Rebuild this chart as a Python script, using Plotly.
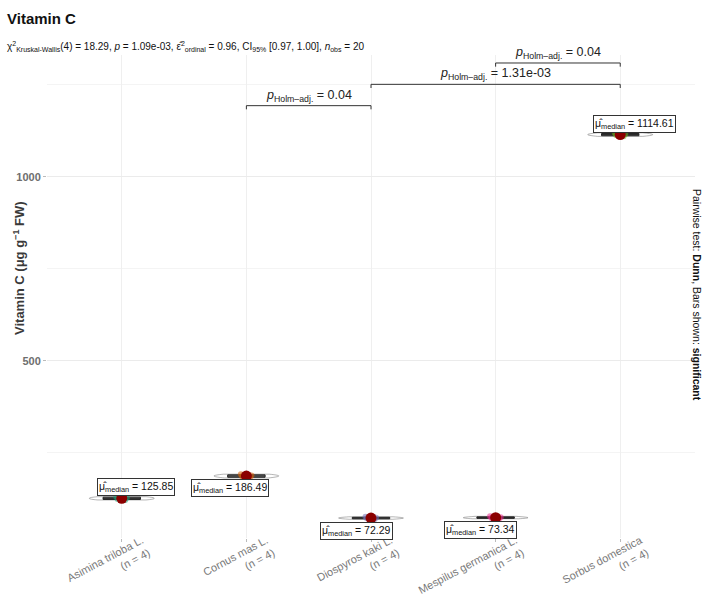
import numpy as np
import plotly.graph_objects as go

# Species and their vitamin C measurements (µg g-1 FW), four replicates each
species = ["Asimina triloba L.", "Cornus mas L.", "Diospyros kaki L.",
           "Mespilus germanica L.", "Sorbus domestica"]
asimina = [121.4, 124.2, 127.5, 130.3]
cornus = [181.2, 185.1, 187.88, 191.5]
diospyros = [68.9, 71.5, 73.08, 75.6]
mespilus = [70.2, 72.6, 74.08, 76.9]
sorbus = [1109.8, 1113.3, 1115.92, 1119.4]
groups = [asimina, cornus, diospyros, mespilus, sorbus]

# Significant Dunn pairwise comparisons (Holm-adjusted)
pair_a = [1, 2, 3]
pair_b = [2, 4, 4]
pair_p = ["0.04", "1.31e-03", "0.04"]

colors = ["#1B9E77", "#D95F02", "#7570B3", "#E7298A", "#66A61E"]
FONT = "Liberation Sans, Arial, sans-serif"

W, H = 706, 599
L, R, T, B = 47, 11, 55, 61

fig = go.Figure()

medians = [float(np.median(g)) for g in groups]

for i, vals in enumerate(groups):
    xs = [i] * len(vals)
    fig.add_trace(go.Violin(
        x=xs, y=vals, width=0.52, spanmode="hard", points=False,
        line=dict(color="rgba(90,90,90,0.45)", width=1),
        fillcolor="rgba(255,255,255,0)", showlegend=False, hoverinfo="skip",
        box_visible=False, meanline_visible=False))
    fig.add_trace(go.Box(
        x=xs, y=vals, width=0.3, boxpoints="all", jitter=0.35, pointpos=0,
        line=dict(color="#222222", width=1), fillcolor="rgba(60,60,60,0.6)",
        marker=dict(color=colors[i], size=6, opacity=0.55),
        whiskerwidth=0, showlegend=False))

# median markers
fig.add_trace(go.Scatter(
    x=list(range(len(species))), y=medians, mode="markers",
    marker=dict(color="#8B0000", size=11), showlegend=False))

# median labels (pixel offsets from the marker)
label_shift = [(14, 11.5), (-16, -11.5), (-15, -12.5), (-15.5, -12.5), (14.5, 11)]
for i, m in enumerate(medians):
    dx, dy = label_shift[i]
    fig.add_annotation(
        x=i, y=m, xref="x", yref="y", showarrow=False,
        text=f"\u03bc\u0302<sub>median</sub> = {m:.2f}",
        font=dict(family=FONT, size=10.5, color="#111111"),
        bgcolor="white", bordercolor="#333333", borderwidth=1, borderpad=1,
        xshift=dx, yshift=dy)

# significance brackets
top = max(max(g) for g in groups)
base = top * 1.066
step = 58
tick = 10
for k, (a, b, p) in enumerate(zip(pair_a, pair_b, pair_p)):
    yb = base + k * step
    fig.add_trace(go.Scatter(
        x=[a, a, b, b], y=[yb - tick, yb, yb, yb - tick], mode="lines",
        line=dict(color="#333333", width=1), showlegend=False,
        hoverinfo="skip"))
    fig.add_annotation(
        x=(a + b) / 2, y=yb, xref="x", yref="y", showarrow=False, yshift=10,
        text=f"<i>p</i><sub>Holm\u2013adj.</sub> = {p}",
        font=dict(family=FONT, size=12.5, color="#222222"))

ticktext = [f"{s}<br>(n = {len(g)})" for s, g in zip(species, groups)]

fig.update_layout(
    width=W, height=H,
    margin=dict(l=L, r=R, t=T, b=B),
    paper_bgcolor="white", plot_bgcolor="white",
    font=dict(family=FONT, size=11, color="#4D4D4D"),
    xaxis=dict(
        range=[-0.6, 4.6], tickvals=list(range(len(species))), ticktext=ticktext,
        tickangle=-28, showgrid=True, gridcolor="#EFEFEF", gridwidth=1,
        zeroline=False, showline=False, ticks="outside", ticklen=3,
        tickcolor="#BBBBBB", automargin=False, ticklabelshift=20,
        ticklabelstandoff=-12,
        tickfont=dict(size=11, color="#7A7A7A", family=FONT)),
    yaxis=dict(
        range=[18, 1331], tick0=0, dtick=500, showgrid=True, gridcolor="#EBEBEB",
        zeroline=False, showline=False, ticks="outside", ticklen=3,
        tickcolor="#BBBBBB", automargin=False,
        tickfont=dict(size=11, color="#6E6E6E", weight="bold"),
        minor=dict(dtick=250, showgrid=True, gridcolor="#F4F4F4")),
    showlegend=False,
)

# title, subtitle, axis title, caption (positions given in pixels)
page_text = [
    dict(x=5, y=18, text="<b>Vitamin C</b>", xanchor="left", textangle=0,
         font=dict(family=FONT, size=15, color="#111111")),
    dict(x=5, y=47,
         text=("\u03c7<sup>2</sup><sub>Kruskal-Wallis</sub>(4) = 18.29, "
               "<i>p</i> = 1.09e-03, \u03b5\u0302<sup>2</sup><sub>ordinal</sub> = 0.96, "
               "CI<sub>95%</sub> [0.97, 1.00], <i>n</i><sub>obs</sub> = 20"),
         xanchor="left", textangle=0,
         font=dict(family=FONT, size=10, color="#111111")),
    dict(x=19, y=268, text="<b>Vitamin C (\u03bcg g<sup>\u22121</sup> FW)</b>",
         xanchor="center", textangle=-90,
         font=dict(family=FONT, size=13, color="#3A3A3A")),
    dict(x=697, y=295,
         text="Pairwise test: <b>Dunn</b>, Bars shown: <b>significant</b>",
         xanchor="center", textangle=90,
         font=dict(family=FONT, size=10.5, color="#111111")),
]
pw, ph = W - L - R, H - T - B
for d in page_text:
    fig.add_annotation(
        x=(d["x"] - L) / pw, y=(H - B - d["y"]) / ph, xref="paper", yref="paper",
        text=d["text"], textangle=d["textangle"], showarrow=False,
        xanchor=d["xanchor"], yanchor="middle", font=d["font"])

fig.write_html("out.html")
